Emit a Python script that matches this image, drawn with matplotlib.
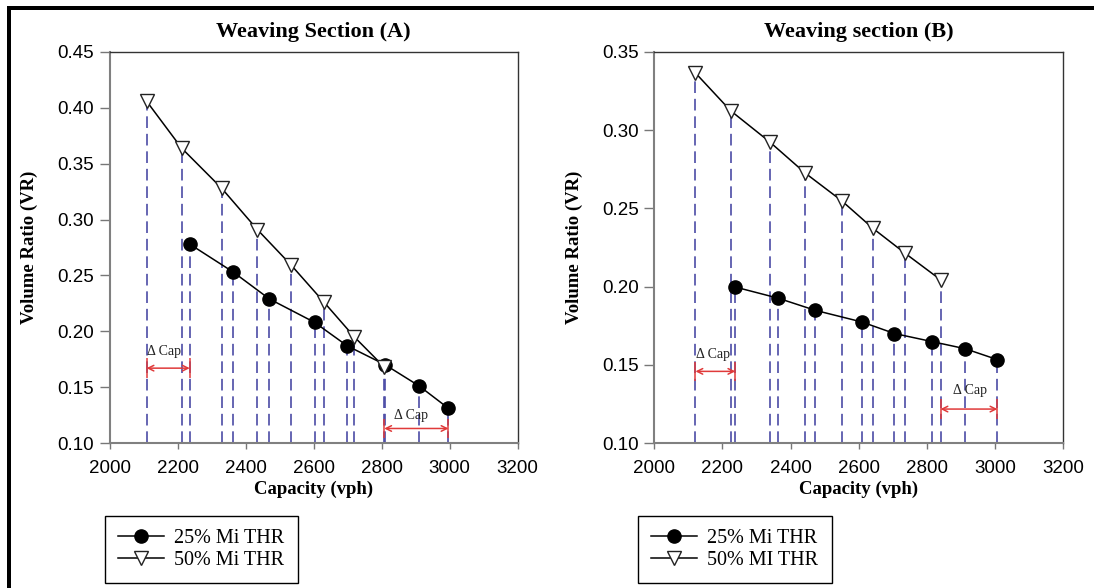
from typing import List, Tuple

import matplotlib
matplotlib.use("Agg")
import matplotlib.pyplot as plt
from matplotlib.patches import Rectangle
from matplotlib.ticker import FormatStrFormatter, MultipleLocator


# Section A
cap_a_25 = [2236, 2364, 2470, 2603, 2699, 2811, 2911, 2997]
vr_a_25 = [0.278, 0.253, 0.229, 0.208, 0.187, 0.170, 0.151, 0.131]
cap_a_50 = [2109, 2212, 2330, 2435, 2535, 2631, 2720, 2808]
vr_a_50 = [0.406, 0.364, 0.328, 0.291, 0.259, 0.226, 0.195, 0.168]

# Section B
cap_b_25 = [2238, 2362, 2473, 2609, 2705, 2816, 2912, 3007]
vr_b_25 = [0.1997, 0.1927, 0.1848, 0.1774, 0.1700, 0.1648, 0.1603, 0.1533]
cap_b_50 = [2121, 2224, 2339, 2443, 2550, 2642, 2735, 2840]
vr_b_50 = [0.3366, 0.3125, 0.2925, 0.2726, 0.2549, 0.2372, 0.2215, 0.2044]

# delta-capacity brackets: (x_from, x_to, y)
delta_a = [(2109, 2236, 0.167), (2808, 2997, 0.113)]
delta_b = [(2121, 2238, 0.1458), (2840, 3007, 0.1217)]
delta_text_a = [(2111, 0.176, "left"), (2887, 0.119, "center")]
delta_text_b = [(2123, 0.1525, "left"), (2928, 0.1295, "center")]

labels_a = ["25% Mi THR", "50% Mi THR"]
labels_b = ["25% Mi THR", "50% MI THR"]

SERIF = ["Liberation Serif", "DejaVu Serif"]
SANS = ["Liberation Sans", "DejaVu Sans"]
DROP = "#4c4ca6"
RED = "#e03a3a"


def _drops(ax, xs: List[float], ys: List[float], y0: float):
    ax.vlines(xs, y0, ys, colors=DROP, linewidth=1.2,
              linestyles=(0, (7, 3.5)), zorder=1)


def _bracket(ax, x0: float, x1: float, y: float, half: float):
    ax.annotate("", xy=(x0, y), xytext=(x1, y),
                arrowprops=dict(arrowstyle="<->", color=RED, lw=1.1,
                                shrinkA=0, shrinkB=0, mutation_scale=10),
                zorder=4)
    ax.vlines([x0, x1], y - half, y + half, colors=RED, linewidth=1.1, zorder=4)


def _plot_panel(
    ax,
    title: str,
    c25: List[float], v25: List[float],
    c50: List[float], v50: List[float],
    ylim: Tuple[float, float],
    brackets, texts, labels: List[str],
    legend_box: Tuple[float, float],
):
    y0 = ylim[0]
    _drops(ax, c50, v50, y0)
    _drops(ax, c25, v25, y0)

    l25, = ax.plot(c25, v25, color="black", lw=1.1, marker="o", ms=9.5,
                   mfc="black", mec="black", zorder=5)
    l50, = ax.plot(c50, v50, color="black", lw=1.1, marker="v", ms=10,
                   mfc="white", mec="#222222", mew=1.0, zorder=6)

    half = (ylim[1] - ylim[0]) * 0.025
    for x0, x1, y in brackets:
        _bracket(ax, x0, x1, y, half)
    for x, y, ha in texts:
        ax.text(x, y, "Δ Cap", fontsize=10, family=SERIF, ha=ha, va="bottom",
                color="#222222", zorder=4)

    ax.set_xlim(2000, 3200)
    ax.set_ylim(*ylim)
    ax.xaxis.set_major_locator(MultipleLocator(200))
    ax.yaxis.set_major_locator(MultipleLocator(0.05))
    ax.yaxis.set_major_formatter(FormatStrFormatter("%.2f"))
    ax.tick_params(axis="y", length=7, width=1, color="#777777", labelsize=13.5, pad=4)
    ax.tick_params(axis="x", length=4, width=1, color="#777777", labelsize=13.5, pad=8)
    for lab in ax.get_xticklabels() + ax.get_yticklabels():
        lab.set_family(SANS)

    for side in ("top", "right"):
        ax.spines[side].set_color("#333333")
        ax.spines[side].set_linewidth(1.0)
    for side in ("left", "bottom"):
        ax.spines[side].set_color("#808080")
        ax.spines[side].set_linewidth(1.5)

    ax.set_title(title, fontsize=16, fontweight="bold", family=SERIF, pad=11)
    ax.set_xlabel("Capacity (vph)", fontsize=13.5, fontweight="bold", family=SERIF, labelpad=3)
    ax.set_ylabel("Volume Ratio (VR)", fontsize=13.5, fontweight="bold", family=SERIF, labelpad=14)

    leg = ax.legend([l25, l50], labels, loc="upper left",
                    bbox_to_anchor=legend_box, bbox_transform=ax.figure.transFigure,
                    numpoints=1, handlelength=2.3, handletextpad=0.5,
                    borderpad=0.65, labelspacing=0.15, borderaxespad=0,
                    fancybox=False, framealpha=1, edgecolor="black",
                    prop={"family": SERIF, "size": 14.5})
    leg.get_frame().set_linewidth(1.0)


def _run():
    fig = plt.figure(figsize=(10.94, 5.88), dpi=100)
    W, H = 1094, 588

    ax_a = fig.add_axes([109.5 / W, 1 - 443 / H, 408 / W, 391 / H])
    ax_b = fig.add_axes([654.2 / W, 1 - 443 / H, 409 / W, 391 / H])

    _plot_panel(ax_a, "Weaving Section (A)", cap_a_25, vr_a_25, cap_a_50, vr_a_50,
                (0.10, 0.45), delta_a, delta_text_a, labels_a,
                (105 / W, 1 - 516 / H))
    _plot_panel(ax_b, "Weaving section (B)", cap_b_25, vr_b_25, cap_b_50, vr_b_50,
                (0.10, 0.35), delta_b, delta_text_b, labels_b,
                (638 / W, 1 - 516 / H))

    # heavy frame lines along top and left edge
    fig.add_artist(Rectangle((7 / W, 0), 4 / W, 1 - 6 / H, transform=fig.transFigure,
                             color="black", lw=0))
    fig.add_artist(Rectangle((7 / W, 1 - 10 / H), 1 - 7 / W, 4 / H, transform=fig.transFigure,
                             color="black", lw=0))

    fig.savefig("out.png", dpi=100)


if __name__ == "__main__":
    _run()
